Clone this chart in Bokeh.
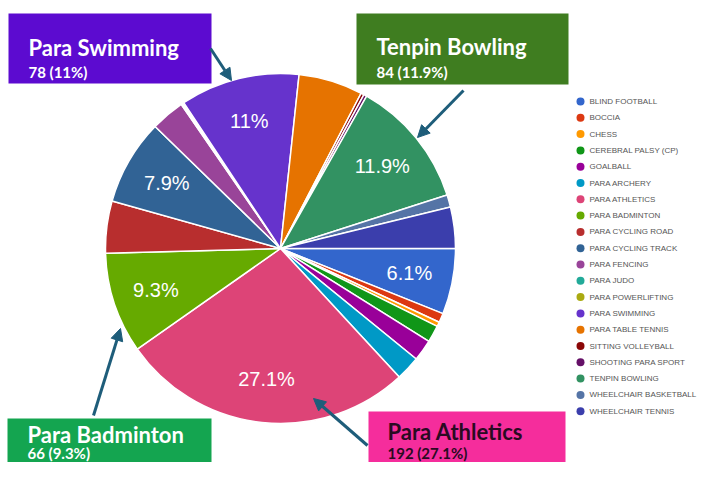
import math
from bokeh.plotting import figure
from bokeh.models import Range1d, ColumnDataSource, Arrow, NormalHead
from bokeh.core.properties import value
from bokeh.embed import file_html
from bokeh.resources import INLINE

# ---- data ----
sports = ["BLIND FOOTBALL", "BOCCIA", "CHESS", "CEREBRAL PALSY (CP)", "GOALBALL",
          "PARA ARCHERY", "PARA ATHLETICS", "PARA BADMINTON", "PARA CYCLING ROAD",
          "PARA CYCLING TRACK", "PARA FENCING", "PARA JUDO", "PARA POWERLIFTING",
          "PARA SWIMMING", "PARA TABLE TENNIS", "SITTING VOLLEYBALL",
          "SHOOTING PARA SPORT", "TENPIN BOWLING", "WHEELCHAIR BASKETBALL",
          "WHEELCHAIR TENNIS"]
counts = [43, 6, 3, 11, 14, 16, 192, 66, 34, 56, 22, 1, 1, 78, 42, 2, 2, 84, 8, 27]
colors = ["#3366cc", "#dc3912", "#ff9900", "#109618", "#990099", "#0099c6",
          "#dd4477", "#66aa00", "#b82e2e", "#316395", "#994499", "#22aa99",
          "#aaaa11", "#6633cc", "#e67300", "#8b0707", "#651067", "#329262",
          "#5574a6", "#3b3eac"]
callout_names = ["Para Swimming", "Tenpin Bowling", "Para Badminton", "Para Athletics"]
callout_idx = [13, 17, 7, 6]
callout_colors = ["#5c0bd0", "#3f7d20", "#14a550", "#f52d9c"]
callout_text_colors = ["#ffffff", "#ffffff", "#ffffff", "#2a0a22"]

# ---- layout helpers (reference pixel coords -> data coords) ----
W, H = 699, 462
def Y(y):
    return 478 - y

p = figure(width=W, height=H, x_range=Range1d(0, W), y_range=Range1d(Y(H), Y(0)),
           output_backend="svg", toolbar_location=None, min_border=0)
p.axis.visible = False
p.grid.visible = False
p.outline_line_color = None
p.background_fill_color = "white"

total = sum(counts)
cx, cy, r = 280, Y(248), 175
starts, ends, mids, pcts = [], [], [], []
acc = 0.0
for c in counts:
    a0 = acc / total * 2 * math.pi
    acc += c
    a1 = acc / total * 2 * math.pi
    starts.append(-a0)
    ends.append(-a1)
    mids.append(-(a0 + a1) / 2)
    pcts.append(c / total * 100)

src = ColumnDataSource(dict(start=starts, end=ends, color=colors))
p.wedge(x=cx, y=cy, radius=r, start_angle="start", end_angle="end",
        direction="clock", fill_color="color", line_color="white",
        line_width=1.5, source=src)

def fmt(v):
    s = f"{v:.1f}"
    return s[:-2] + "%" if s.endswith(".0") else s + "%"

lx, ly, lt = [], [], []
for m, pc in zip(mids, pcts):
    if pc >= 6.0:
        lx.append(cx + 0.75 * r * math.cos(m))
        ly.append(cy + 0.75 * r * math.sin(m))
        lt.append(fmt(pc))
p.text(x=lx, y=ly, text=lt, text_color="white", text_font=value("Liberation Sans"),
       text_font_size="20px", text_align="center", text_baseline="middle")

# ---- legend ----
leg_y = [Y(101 + i * 16.3) for i in range(len(sports))]
p.scatter(x=[580] * len(sports), y=leg_y, size=8, fill_color=colors,
          line_color=None, marker="circle")
p.text(x=[589] * len(sports), y=leg_y, text=sports, text_color="#555555",
       text_font=value("Liberation Sans"), text_font_size="8px",
       text_align="left", text_baseline="middle")

# ---- callout boxes ----
boxes = [(8, 211, 13, 83), (356, 568, 13, 84), (7, 211, 418, 480), (368, 565, 411, 480)]
text_pos = [(28, 47, 71), (376, 46, 71), (27, 434, 452), (387, 431, 452)]
for (x0, x1, y0, y1), name, idx, col, tcol, (tx, t1, t2) in zip(
        boxes, callout_names, callout_idx, callout_colors, callout_text_colors, text_pos):
    p.quad(left=x0, right=x1, top=Y(y0), bottom=Y(y1), fill_color=col, line_color=None)
    p.text(x=[tx], y=[Y(t1)], text=[name], text_color=tcol, text_font=value("Lato"),
           text_font_style="bold", text_font_size="22px", text_baseline="alphabetic")
    p.text(x=[tx], y=[Y(t2)], text=[f"{counts[idx]} ({fmt(pcts[idx])})"], text_color=tcol,
           text_font=value("Lato"), text_font_style="bold", text_font_size="15px",
           text_baseline="alphabetic")

# ---- arrows ----
arrows = [((210, 48), (231, 80)), ((463, 90), (417, 137)),
          ((93, 415), (120, 328)), ((367, 445), (313, 398))]
for (sx, sy), (ex, ey) in arrows:
    p.add_layout(Arrow(x_start=sx, y_start=Y(sy), x_end=ex, y_end=Y(ey),
                       line_color="#1e5d7a", line_width=3,
                       end=NormalHead(size=12, fill_color="#1e5d7a", line_color="#1e5d7a")))

open("out.html", "w").write(file_html(p, INLINE))
